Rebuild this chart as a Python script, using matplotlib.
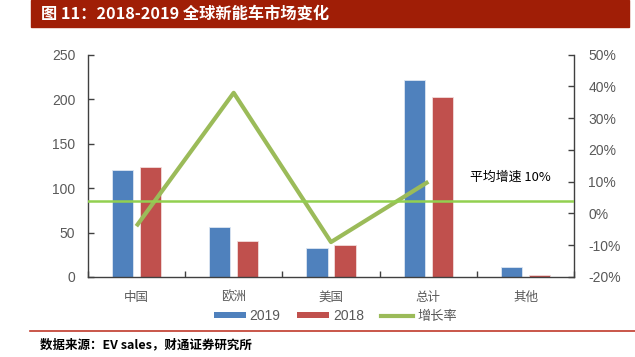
import matplotlib
matplotlib.use("Agg")
import matplotlib.pyplot as plt
from matplotlib.patches import Patch, Rectangle
from matplotlib.lines import Line2D
import numpy as np

categories = ["中国", "欧洲", "美国", "总计", "其他"]
sales_2019 = [120, 56, 33, 221, 11]
sales_2018 = [124, 41, 36, 202, 2]
growth_cats = ["中国", "欧洲", "美国", "总计"]
growth_rate = [-4, 38, -9, 10]
avg_line_level = 3.8
avg_label = "平均增速 10%"
left_ticks = [0, 50, 100, 150, 200, 250]
right_ticks = [-20, -10, 0, 10, 20, 30, 40, 50]
title = "图 11：2018-2019 全球新能车市场变化"
source = "数据来源：EV sales，财通证券研究所"
legend_labels = ["2019", "2018", "增长率"]

C_BLUE = "#4F81BD"
C_RED = "#C0504D"
C_GREEN = "#9BBB59"
C_AVG = "#92D050"
C_GRAY = "#595959"
NUM = ["Liberation Sans Narrow", "Liberation Sans", "DejaVu Sans"]
CJK = ["Noto Sans CJK SC", "DejaVu Sans"]

plt.rcParams["font.family"] = CJK

fig = plt.figure(figsize=(6.35, 3.57), dpi=100)
W, H = 635, 357

# title bar
fig.patches.append(Rectangle((31 / W, 1 - 27 / H), (629 - 31) / W, 27 / H,
                             transform=fig.transFigure, color="#A01E06", zorder=0))
fig.text(41 / W, 1 - 14 / H, title, color="white", fontsize=11.7,
         fontweight="bold", va="center", ha="left", family=CJK)

ax = fig.add_axes([87.7 / W, 1 - 277 / H, (574.3 - 87.7) / W, (277 - 54.7) / H])
ax2 = ax.twinx()

x = np.arange(len(categories))
bw = 0.222
off = 0.144
ax.bar(x - off, sales_2019, bw, color=C_BLUE, edgecolor="#DCE6F2", linewidth=0.6, zorder=2)
ax.bar(x + off, sales_2018, bw, color=C_RED, edgecolor="#F2DCDB", linewidth=0.6, zorder=2)
ax.set_xlim(-0.5, len(categories) - 0.5)
ax.set_ylim(0, 250)
ax.set_yticks(left_ticks)
ax.set_yticklabels([str(v) for v in left_ticks], family=NUM, fontsize=10, color=C_GRAY)

ax.set_xticks(np.arange(len(categories) + 1) - 0.5)
ax.set_xticklabels([])
ax.set_xticks(x, minor=True)
ax.set_xticklabels(categories, minor=True, fontsize=9, color=C_GRAY, family=CJK)
ax.tick_params(axis="x", which="major", direction="in", length=4, width=1, color="#404040")
ax.tick_params(axis="x", which="minor", length=0, pad=10)
ax.tick_params(axis="y", direction="in", length=4, width=1, pad=9, color="#404040")

gx = [categories.index(c) for c in growth_cats]
ax2.plot(gx, growth_rate, color=C_GREEN, lw=3.0, zorder=3, solid_capstyle="butt")
ax2.axhline(avg_line_level, color=C_AVG, lw=1.8, zorder=3)
ax2.set_ylim(-20, 50)
ax2.set_yticks(right_ticks)
ax2.set_yticklabels([f"{v}%" for v in right_ticks], family=NUM, fontsize=10, color=C_GRAY)
ax2.tick_params(axis="y", direction="in", length=4, width=1, pad=10, color="#404040")
ax2.text(3.43, 11.3, avg_label, fontsize=9.3, color="black", va="center", ha="left", family=CJK)

for a in (ax, ax2):
    a.spines["top"].set_visible(False)
    for s in ("left", "right", "bottom"):
        a.spines[s].set_color("#404040")
        a.spines[s].set_linewidth(1)
ax.spines["right"].set_visible(False)
ax2.spines["left"].set_visible(False)
ax2.spines["bottom"].set_visible(False)

handles = [Patch(facecolor=C_BLUE), Patch(facecolor=C_RED),
           Line2D([0], [0], color=C_GREEN, lw=3)]
leg = fig.legend(handles, legend_labels, loc="center", bbox_to_anchor=(0.528, 1 - 316 / H),
                 ncol=3, frameon=False, handlelength=2.3, handleheight=0.35,
                 columnspacing=1.2, handletextpad=0.3, fontsize=10)
for t in leg.get_texts():
    t.set_color(C_GRAY)
    if t.get_text().isdigit():
        t.set_family(NUM)
    else:
        t.set_family(CJK)
        t.set_fontsize(9.5)

fig.add_artist(Line2D([30 / W, 1.0], [1 - 330.5 / H, 1 - 330.5 / H], transform=fig.transFigure,
                      color="#C0392B", lw=1.2))
fig.text(40 / W, 1 - 345 / H, source, fontsize=9, fontweight="bold", color="black",
         va="center", ha="left", family=CJK)

fig.savefig("out.png", dpi=100)
